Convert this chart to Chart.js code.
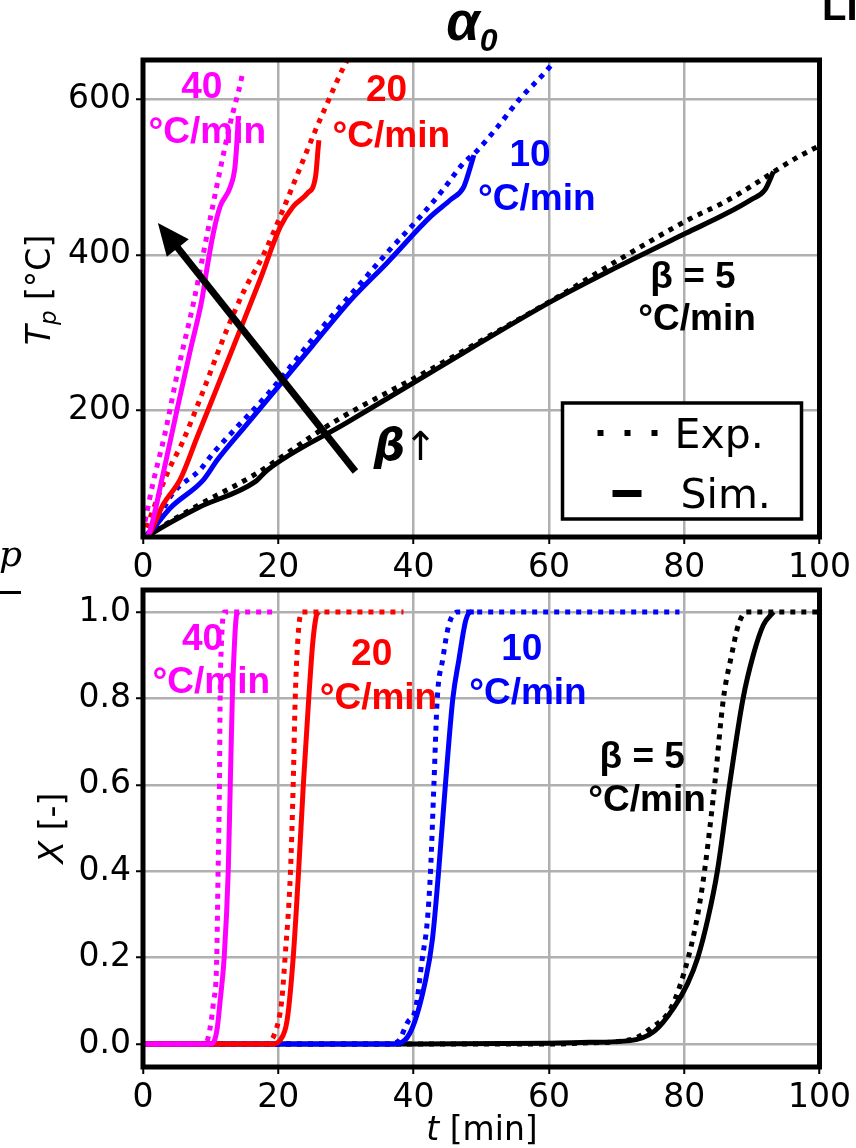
<!DOCTYPE html>
<html>
<head>
<meta charset="utf-8">
<script src="https://cdn.jsdelivr.net/npm/chart.js@4.4.1/dist/chart.umd.min.js"></script>
<style>
  body { margin: 0; background: #fff; }
  .wrap { position: relative; width: 856px; height: 1148px; overflow: hidden; }
  .wrap canvas { position: absolute; left: 0; top: 0; }
</style>
</head>
<body>
<div class="wrap">
  <canvas id="tempChart" width="856" height="1148"></canvas>
  <canvas id="convChart" width="856" height="1148"></canvas>
</div>
<script>
// axis ticks
const timeTicks = [0, 20, 40, 60, 80, 100];
const tempTicks = [200, 400, 600];
const convTicks = [0, 0.2, 0.4, 0.6, 0.8, 1.0];

// heating rates, fastest first
const rateNames = ["40", "20", "10", "β = 5"];
const rateColors = ["#ff00ff", "#ff0000", "#0000ff", "#000000"];

// particle temperature T_p [°C] vs time [min]
const tpExpT40 = [0.3, 1.5, 3.2, 5.2, 7.5, 9.9, 11.4, 12.9, 14.4, 14.8];
const tpExp40 = [58, 108, 169, 253, 340, 445, 509, 569, 620, 637];
const tpSimT40 = [0.5, 1, 2.8, 5, 7, 8.7, 9.5, 10.4, 11.4, 12.9, 13.6, 13.9, 14.1];
const tpSim40 = [38, 45, 112, 200, 278, 342, 385, 428, 462, 487, 513, 547, 578];

const tpExpT20 = [0.5, 3.7, 5.8, 8.7, 12.4, 15, 17.8, 20.7, 23.7, 25.5, 27, 29.6, 30.2];
const tpExp20 = [50, 122, 159, 221, 304, 355, 400, 458, 522, 560, 590, 640, 650];
const tpSimT20 = [0.5, 1, 3, 5.5, 8, 11, 14, 17.3, 20.3, 22.2, 24.3, 25.5, 25.9, 26];
const tpSim20 = [38, 43, 80, 112, 166, 231, 296, 368, 436, 462, 479, 500, 538, 547];

const tpExpT10 = [0.5, 1.5, 4.5, 8.4, 10.4, 14, 18.4, 26.2, 32.6, 36.1, 41, 44.3, 47.4, 49.2, 52.4, 55.6, 59.1, 60.6];
const tpExp10 = [40, 51, 95, 124, 146, 180, 221, 304, 368, 403, 449, 483, 518, 532, 564, 599, 631, 646];
const tpSimT10 = [0.5, 1, 4, 8.9, 11, 15, 20, 25, 30.7, 36.1, 42.5, 45.5, 47.4, 48.4, 48.9];
const tpSim10 = [38, 43, 75, 111, 137, 179, 231, 283, 342, 390, 449, 471, 487, 513, 528];

const tpExpT5 = [0.5, 1.5, 8, 16.3, 28.1, 42.5, 50, 61.3, 70, 80.6, 86, 91, 93.3, 96.9, 100];
const tpExp5 = [40, 45, 78, 117, 185, 253, 290, 346, 392, 445, 468, 494, 507, 526, 540];
const tpSimT5 = [0.5, 1, 8, 16.6, 18.4, 30, 42.5, 60.3, 70, 80.3, 86, 89.9, 91.9, 93.2];
const tpSim5 = [38, 41, 75, 109, 124, 184, 249, 340, 384, 428, 452, 471, 483, 507];

// conversion X [-] vs time [min]
const xExpT40 = [0, 4, 8, 9.2, 9.7, 10.4, 10.9, 11.1, 11.3, 11.4, 11.6, 12, 15, 19.3];
const xExp40 = [0, 0, 0, 0, 0.02, 0.095, 0.2, 0.4, 0.6, 0.8, 0.93, 1, 1, 1];
const xSimT40 = [0, 5, 10, 10.6, 11, 11.4, 12, 12.6, 12.9, 13.2, 13.5, 13.8, 14.1];
const xSim40 = [0, 0, 0, 0.01, 0.04, 0.1, 0.2, 0.4, 0.6, 0.8, 0.92, 0.99, 1];

const xExpT20 = [0, 5, 10, 15, 17.8, 19.6, 20.5, 21, 21.8, 22.2, 22.5, 23, 23.5, 26, 30, 34, 38.5];
const xExp20 = [0, 0, 0, 0, 0, 0.03, 0.1, 0.2, 0.4, 0.6, 0.8, 0.96, 1, 1, 1, 1, 1];
const xSimT20 = [0, 5, 10, 15, 19, 20.3, 21.3, 22.2, 23, 23.7, 24.5, 25.1, 25.6, 26];
const xSim20 = [0, 0, 0, 0, 0, 0.01, 0.055, 0.2, 0.4, 0.6, 0.8, 0.93, 0.99, 1];

const xExpT10 = [0, 10, 20, 30, 36, 37.6, 39.1, 40.3, 41.3, 42, 42.5, 43, 43.5, 44.3, 45.2, 46.5, 55, 65, 79.3];
const xExp10 = [0, 0, 0, 0, 0, 0.005, 0.05, 0.083, 0.2, 0.28, 0.4, 0.6, 0.8, 0.89, 0.97, 1, 1, 1, 1];
const xSimT10 = [0, 10, 20, 30, 37, 39.6, 41.8, 42.8, 43.7, 44.7, 45.8, 46.7, 47.7, 48.4, 48.9];
const xSim10 = [0, 0, 0, 0, 0, 0.03, 0.15, 0.245, 0.4, 0.6, 0.8, 0.89, 0.98, 1, 1];

const xExpT5 = [0, 20, 40, 60, 66, 72, 75.1, 78.1, 80.6, 82, 83, 84.5, 85.8, 87, 88, 89.2, 95, 100];
const xExp5 = [0, 0, 0, 0, 0.003, 0.01, 0.037, 0.085, 0.2, 0.3, 0.4, 0.6, 0.8, 0.9, 0.97, 1, 1, 1];
const xSimT5 = [0, 20, 40, 60, 66, 72, 75.6, 78.5, 80.5, 82, 83.5, 84.9, 86.7, 88.7, 90.2, 91.7, 93.2];
const xSim5 = [0, 0, 0, 0.002, 0.004, 0.008, 0.03, 0.085, 0.14, 0.2, 0.29, 0.4, 0.6, 0.8, 0.9, 0.97, 1];

const tempSeries = [
  [tpExpT40, tpExp40, tpSimT40, tpSim40],
  [tpExpT20, tpExp20, tpSimT20, tpSim20],
  [tpExpT10, tpExp10, tpSimT10, tpSim10],
  [tpExpT5, tpExp5, tpSimT5, tpSim5],
];
const convSeries = [
  [xExpT40, xExp40, xSimT40, xSim40],
  [xExpT20, xExp20, xSimT20, xSim20],
  [xExpT10, xExp10, xSimT10, xSim10],
  [xExpT5, xExp5, xSimT5, xSim5],
];

// rate labels placed in data coordinates of each panel
const tempNotes = [
  [8.7, 614, 9.5, 556],
  [36, 610, 36.7, 551],
  [57.2, 527, 58.2, 470],
  [81.3, 371, 81.9, 317],
];
const convNotes = [
  [8.8, 0.935, 10.1, 0.836],
  [33.8, 0.90, 34.8, 0.80],
  [56, 0.912, 56.9, 0.81],
  [73.8, 0.662, 74.5, 0.563],
];

const GRID = "#b0b0b0";
const TICK_FONT = { family: "DejaVu Sans", size: 33 };

function pts(xs, ys) {
  return xs.map((x, i) => ({ x: x, y: ys[i] }));
}

function buildDatasets(series) {
  const out = [];
  // magenta first so it ends up on top
  series.forEach((s, i) => {
    out.push({
      data: pts(s[2], s[3]),
      borderColor: rateColors[i],
      borderWidth: 5,
      cubicInterpolationMode: "monotone",
    });
    out.push({
      data: pts(s[0], s[1]),
      borderColor: rateColors[i],
      borderWidth: 5,
      borderDash: [5, 6],
      borderCapStyle: "butt",
      cubicInterpolationMode: "monotone",
    });
  });
  return out;
}

// draws text made of differently styled pieces, centred on (cx, cy)
function richText(ctx, pieces, cx, cy, angle) {
  ctx.save();
  ctx.translate(cx, cy);
  ctx.rotate(angle);
  let total = 0;
  pieces.forEach((p) => {
    ctx.font = p.font;
    p.w = ctx.measureText(p.text).width;
    total += p.w;
  });
  let x = -total / 2;
  ctx.fillStyle = "#000";
  ctx.textBaseline = "alphabetic";
  ctx.textAlign = "left";
  pieces.forEach((p) => {
    ctx.font = p.font;
    ctx.fillText(p.text, x, p.dy || 0);
    x += p.w;
  });
  ctx.restore();
}

function drawNotes(chart, notes) {
  const ctx = chart.ctx;
  const xs = chart.scales.x, ys = chart.scales.y;
  ctx.save();
  ctx.font = "bold 37px 'Liberation Sans', Arial, sans-serif";
  ctx.textAlign = "center";
  ctx.textBaseline = "middle";
  notes.forEach((n, i) => {
    ctx.fillStyle = rateColors[i];
    ctx.fillText(rateNames[i], xs.getPixelForValue(n[0]), ys.getPixelForValue(n[1]));
    ctx.fillText("°C/min", xs.getPixelForValue(n[2]), ys.getPixelForValue(n[3]));
  });
  ctx.restore();
}

function drawFrame(chart) {
  const ctx = chart.ctx, a = chart.chartArea;
  ctx.save();
  ctx.strokeStyle = "#000";
  ctx.lineWidth = 5;
  ctx.strokeRect(a.left, a.top, a.right - a.left, a.bottom - a.top);
  ctx.restore();
}

function scaleOpts(ticks, min, max, fmt, size) {
  return {
    type: "linear",
    min: min,
    max: max,
    afterBuildTicks: (s) => { s.ticks = ticks.map((v) => ({ value: v })); },
    afterFit: (s) => {
      if (s.isHorizontal()) s.height = size; else s.width = size;
    },
    border: { display: false },
    grid: { color: GRID, lineWidth: 2.5, tickColor: "#000", tickLength: 7, tickWidth: 2 },
    ticks: {
      font: TICK_FONT, color: "#000", padding: 5,
      autoSkip: false, maxRotation: 0,
      callback: fmt,
    },
  };
}

const topPanel = {
  id: "topPanel",
  afterDatasetsDraw(chart) {
    const ctx = chart.ctx, a = chart.chartArea;
    const xs = chart.scales.x, ys = chart.scales.y;
    drawFrame(chart);
    drawNotes(chart, tempNotes);

    // arrow showing increasing heating rate
    const x0 = xs.getPixelForValue(31.4), y0 = ys.getPixelForValue(122);
    const x1 = xs.getPixelForValue(2.2), y1 = ys.getPixelForValue(441);
    const ang = Math.atan2(y1 - y0, x1 - x0);
    const head = 32, half = 14;
    ctx.save();
    ctx.strokeStyle = "#000";
    ctx.fillStyle = "#000";
    ctx.lineWidth = 7;
    ctx.beginPath();
    ctx.moveTo(x0, y0);
    ctx.lineTo(x1 - Math.cos(ang) * head * 0.8, y1 - Math.sin(ang) * head * 0.8);
    ctx.stroke();
    ctx.beginPath();
    ctx.moveTo(x1, y1);
    ctx.lineTo(x1 - Math.cos(ang) * head - Math.sin(ang) * half, y1 - Math.sin(ang) * head + Math.cos(ang) * half);
    ctx.lineTo(x1 - Math.cos(ang) * head + Math.sin(ang) * half, y1 - Math.sin(ang) * head - Math.cos(ang) * half);
    ctx.closePath();
    ctx.fill();
    ctx.textAlign = "left";
    ctx.textBaseline = "alphabetic";
    ctx.font = "italic bold 44px 'DejaVu Sans'";
    const bx = xs.getPixelForValue(34.1), by = ys.getPixelForValue(137);
    ctx.fillText("β", bx, by);
    ctx.font = "40px 'DejaVu Sans'";
    ctx.fillText("↑", bx + 30, by);
    ctx.restore();

    // legend
    const lx = a.right - 257, ly = a.bottom - 134;
    ctx.save();
    ctx.fillStyle = "#fff";
    ctx.fillRect(lx, ly, 239, 116);
    ctx.strokeStyle = "#000";
    ctx.lineWidth = 3.5;
    ctx.strokeRect(lx, ly, 239, 116);
    ctx.fillStyle = "#000";
    [38, 65, 92].forEach((dx) => ctx.fillRect(lx + dx - 3, ly + 27, 6, 6));
    ctx.fillRect(lx + 50, ly + 87, 29, 7);
    ctx.font = "41px 'DejaVu Sans'";
    ctx.textBaseline = "alphabetic";
    ctx.fillText("Exp.", lx + 112, ly + 45);
    ctx.fillText("Sim.", lx + 118, ly + 105);
    ctx.restore();

    // title, y label and clipped neighbour text
    richText(ctx, [
      { text: "α", font: "italic bold 54px 'Liberation Sans'" },
      { text: "0", font: "italic bold 32px 'Liberation Sans'", dy: 11 },
    ], 472, 40, 0);
    richText(ctx, [
      { text: "T", font: "italic 33px 'DejaVu Sans'" },
      { text: "p", font: "italic 23px 'DejaVu Sans'", dy: 6 },
      { text: " [°C]", font: "33px 'DejaVu Sans'" },
    ], 50, 290, -Math.PI / 2);
    ctx.save();
    ctx.fillStyle = "#000";
    ctx.font = "bold 40px 'Liberation Sans'";
    ctx.fillText("LI", 822, 20);
    ctx.restore();
  },
};

const bottomPanel = {
  id: "bottomPanel",
  afterDatasetsDraw(chart) {
    const ctx = chart.ctx;
    drawFrame(chart);
    drawNotes(chart, convNotes);
    richText(ctx, [
      { text: "X", font: "italic 33px 'DejaVu Sans'" },
      { text: " [-]", font: "33px 'DejaVu Sans'" },
    ], 63, 828, -Math.PI / 2);
    richText(ctx, [
      { text: "t", font: "italic 33px 'DejaVu Sans'" },
      { text: " [min]", font: "33px 'DejaVu Sans'" },
    ], 482, 1140, 0);
    ctx.save();
    ctx.fillStyle = "#000";
    ctx.font = "italic 36px 'DejaVu Serif'";
    ctx.fillText("p", -1, 566);
    ctx.fillRect(0, 591, 21, 3);
    ctx.restore();
  },
};

function makeChart(id, series, yTicks, yMin, yMax, yFmt, pad, plugin) {
  return new Chart(document.getElementById(id), {
    type: "scatter",
    data: { datasets: buildDatasets(series) },
    options: {
      responsive: false,
      animation: false,
      devicePixelRatio: 1,
      showLine: true,
      elements: { point: { radius: 0 } },
      layout: { padding: pad },
      plugins: { legend: { display: false }, tooltip: { enabled: false } },
      scales: {
        x: scaleOpts(timeTicks, 0, 100, (v) => String(v), 40),
        y: scaleOpts(yTicks, yMin, yMax, yFmt, 143),
      },
    },
    plugins: [plugin],
  });
}

makeChart("tempChart", tempSeries, tempTicks, 38, 650, (v) => String(v),
  { left: 0, top: 60, right: 36, bottom: 571 }, topPanel);
makeChart("convChart", convSeries, convTicks, -0.053, 1.051, (v) => v.toFixed(1),
  { left: 0, top: 590, right: 36, bottom: 41 }, bottomPanel);
</script>
</body>
</html>
